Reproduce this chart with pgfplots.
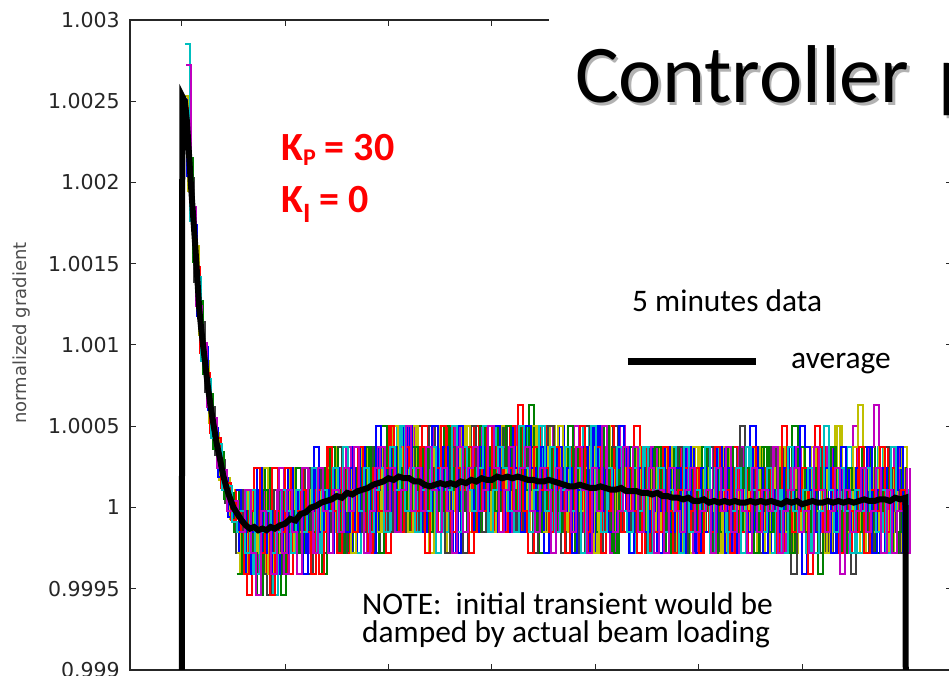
\documentclass[border=0pt]{standalone}
\usepackage{pgfplots}
\pgfplotsset{compat=1.18}
\usepackage{fontspec}
\setmainfont{Carlito}
\newfontfamily\dejavu{DejaVu Sans}
\definecolor{mblue}{rgb}{0,0,1}
\definecolor{mgreen}{rgb}{0,0.5,0}
\definecolor{mred}{rgb}{1,0,0}
\definecolor{mcyan}{rgb}{0,0.75,0.75}
\definecolor{mmag}{rgb}{0.75,0,0.75}
\definecolor{myel}{rgb}{0.75,0.75,0}
\definecolor{mgray}{rgb}{0.25,0.25,0.25}
\begin{document}
\begin{tikzpicture}[x=1pt,y=1pt]
\begin{axis}[
  at={(130pt,6pt)}, anchor=south west,
  scale only axis, width=822pt, height=650pt,
  xmin=-50, xmax=745, ymin=0.999, ymax=1.003,
  xtick={0,100,...,700}, xticklabels={},
  ytick={0.999,0.9995,1,1.0005,1.001,1.0015,1.002,1.0025,1.003},
  yticklabels={0.999,0.9995,1,1.0005,1.001,1.0015,1.002,1.0025,1.003},
  scaled x ticks=false, scaled y ticks=false,
  major tick length=6pt,
  tick style={black!85, line width=1pt},
  axis line style={black!85, line width=1.2pt},
  yticklabel style={font=\dejavu\fontsize{20.5}{20.5}\selectfont, text=black!85, inner sep=0pt, xshift=-10pt},
  ylabel={normalized gradient},
  ylabel style={at={(axis description cs:-0.1314,0.5185)}, anchor=center, font=\dejavu\fontsize{18}{18}\selectfont, text=black!70},
  legend style={at={(axis description cs:0.6010,0.4739)}, anchor=west, draw=none, fill=none, inner sep=0pt,
    font=\fontsize{31.4}{31.4}\selectfont, /tikz/every odd column/.append style={column sep=30pt}},
  legend image code/.code={\draw[line width=7pt] (0pt,0pt) -- (128pt,0pt);},
  every axis plot/.append style={line width=2pt},
]
% ---- runs 1-7 ----
\addplot[const plot, mgray, forget plot] coordinates {
(2.1,1.00241)(7.1,1.00203)(12.1,1.00139)(17.1,1.00114)(22.1,1.00071)(27.1,1.00062)(32.1,1.00032)(37.1,1.00029)(42.1,1.00003)(47.1,1.00006)
(52.1,0.99972)(57.1,0.99998)(62.1,0.99959)(67.1,0.99985)(72.1,1.00011)(77.1,0.99972)(82.1,0.99946)(87.1,0.99998)(92.1,0.99985)(97.1,0.99959)
(102.1,1.00011)(107.1,0.99972)(112.1,1.00011)(117.1,0.99985)(122.1,0.99959)(127.1,1.00024)(132.1,0.99998)(137.1,0.99972)(142.1,1.00024)(147.1,0.99998)
(152.1,0.99972)(157.1,1.00011)(162.1,0.99985)(167.1,1.00024)(172.1,0.99998)(177.1,1.00037)(182.1,1.00011)(187.1,0.99972)(192.1,0.99998)(197.1,1.00024)
(202.1,1.00037)(207.1,0.99998)(212.1,1.00024)(217.1,0.99985)(222.1,1.00011)(227.1,1.0005)(232.1,0.99998)(237.1,1.00024)(242.1,0.99998)(247.1,1.00037)
(252.1,1.00011)(257.1,0.99985)(262.1,1.00024)(267.1,0.99998)(272.1,0.99972)(277.1,1.00037)(282.1,0.99985)(287.1,1.00024)(292.1,1.00037)(297.1,0.99998)
(302.1,1.00011)(307.1,1.0005)(312.1,1.00024)(317.1,0.99985)(322.1,1.00011)(327.1,1.00037)(332.1,0.99998)(337.1,1.00024)(342.1,1.00037)(347.1,0.99998)
(352.1,0.99985)(357.1,1.00024)(362.1,1.00011)(367.1,0.99972)(372.1,1.00024)(377.1,0.99998)(382.1,1.00011)(387.1,0.99985)(392.1,1.00037)(397.1,1.00011)
(402.1,0.99972)(407.1,1.00024)(412.1,0.99998)(417.1,1.0005)(422.1,1.00011)(427.1,0.99985)(432.1,0.99998)(437.1,1.00037)(442.1,0.99998)(447.1,1.00037)
(452.1,0.99985)(457.1,1.00011)(462.1,1.00024)(467.1,0.99972)(472.1,1.00011)(477.1,0.99972)(482.1,1.00024)(487.1,0.99998)(492.1,0.99985)(497.1,1.00011)
(502.1,1.00024)(507.1,0.99985)(512.1,0.99998)(517.1,1.00011)(522.1,0.99972)(527.1,1.00024)(532.1,0.99998)(537.1,1.00037)(542.1,0.99985)(547.1,1.00011)
(552.1,0.99998)(557.1,0.99972)(562.1,1.00024)(567.1,0.99985)(572.1,1.00011)(577.1,0.99998)(582.1,1.00037)(587.1,0.99972)(592.1,0.99998)(597.1,1.00011)
(602.1,1.00024)(607.1,0.99985)(612.1,0.99998)(617.1,0.99972)(622.1,1.00037)(627.1,1.00011)(632.1,0.99985)(637.1,0.99998)(642.1,1.00024)(647.1,0.99959)
(652.1,1.00011)(657.1,0.99985)(662.1,0.99998)(667.1,1.00024)(672.1,0.99985)(677.1,0.99998)(682.1,1.00024)(687.1,0.99972)(692.1,1.00011)(697.1,0.99972)
(702.1,0.99998)
};
\addplot[const plot, myel, forget plot] coordinates {
(1.4,1.00253)(6.4,1.00195)(11.4,1.00161)(16.4,1.00106)(21.4,1.0009)(26.4,1.00052)(31.4,1.00046)(36.4,1.00017)(41.4,1.00018)(46.4,0.99993)
(51.4,1.00011)(56.4,0.99959)(61.4,0.99985)(66.4,0.99998)(71.4,0.99972)(76.4,1.00011)(81.4,0.99959)(86.4,0.99985)(91.4,0.99998)(96.4,0.99972)
(101.4,0.99985)(106.4,1.00011)(111.4,0.99998)(116.4,0.99972)(121.4,1.00011)(126.4,0.99985)(131.4,0.99998)(136.4,1.00024)(141.4,0.99972)(146.4,1.00011)
(151.4,0.99998)(156.4,1.00024)(161.4,0.99985)(166.4,1.00037)(171.4,0.99998)(176.4,1.00011)(181.4,0.99998)(186.4,1.00024)(191.4,0.99985)(196.4,1.00011)
(201.4,1.00024)(206.4,0.99985)(211.4,1.00037)(216.4,1.00011)(221.4,1.0005)(226.4,0.99998)(231.4,1.00024)(236.4,0.99985)(241.4,1.00011)(246.4,0.99998)
(251.4,1.00037)(256.4,0.99972)(261.4,1.00024)(266.4,1.00011)(271.4,1.0005)(276.4,0.99985)(281.4,1.00037)(286.4,1.00011)(291.4,0.99998)(296.4,1.00024)
(301.4,1.0005)(306.4,0.99985)(311.4,1.00011)(316.4,1.00037)(321.4,1.00024)(326.4,0.99998)(331.4,0.99985)(336.4,1.0005)(341.4,1.00024)(346.4,0.99985)
(351.4,1.00011)(356.4,1.0005)(361.4,0.99998)(366.4,1.00037)(371.4,0.99985)(376.4,1.00011)(381.4,1.00037)(386.4,0.99998)(391.4,1.00024)(396.4,0.99972)
(401.4,1.00011)(406.4,1.0005)(411.4,0.99998)(416.4,0.99985)(421.4,1.00024)(426.4,1.00011)(431.4,1.00037)(436.4,0.99998)(441.4,0.99985)(446.4,1.00024)
(451.4,0.99998)(456.4,1.00037)(461.4,0.99972)(466.4,1.00011)(471.4,1.00024)(476.4,0.99985)(481.4,1.00011)(486.4,0.99998)(491.4,0.99972)(496.4,1.00037)
(501.4,0.99985)(506.4,1.00011)(511.4,0.99998)(516.4,1.00037)(521.4,0.99972)(526.4,1.00024)(531.4,1.00011)(536.4,0.99985)(541.4,0.99998)(546.4,1.00024)
(551.4,0.99972)(556.4,1.00037)(561.4,1.00011)(566.4,0.99998)(571.4,0.99985)(576.4,1.00024)(581.4,0.99998)(586.4,1.00011)(591.4,0.99972)(596.4,1.00037)
(601.4,0.99998)(606.4,0.99985)(611.4,1.00011)(616.4,1.00024)(621.4,0.99972)(626.4,0.99998)(631.4,1.0005)(636.4,1.00011)(641.4,0.99985)(646.4,1.00024)
(651.4,0.99998)(656.4,0.99972)(661.4,1.00011)(666.4,0.99998)(671.4,1.00024)(676.4,0.99998)(681.4,0.99985)(686.4,1.00011)(691.4,0.99972)(696.4,1.00037)
(701.4,0.99998)
};
\addplot[const plot, mgreen, forget plot] coordinates {
(0.7,1.00246)(5.7,1.00215)(10.7,1.00151)(15.7,1.00127)(20.7,1.00082)(25.7,1.0007)(30.7,1.00036)(35.7,1.00034)(40.7,1.00005)(45.7,1.00009)
(50.7,0.99985)(55.7,1.00011)(60.7,0.99972)(65.7,0.99985)(70.7,0.99959)(75.7,0.99998)(80.7,1.00024)(85.7,0.99972)(90.7,0.99985)(95.7,0.99946)
(100.7,0.99998)(105.7,0.99985)(110.7,1.00024)(115.7,0.99972)(120.7,0.99998)(125.7,1.00011)(130.7,0.99985)(135.7,0.99959)(140.7,1.00011)(145.7,0.99985)
(150.7,1.00037)(155.7,0.99998)(160.7,0.99972)(165.7,1.00024)(170.7,1.00011)(175.7,0.99985)(180.7,1.00037)(185.7,1.00011)(190.7,0.99972)(195.7,1.00024)
(200.7,0.99998)(205.7,1.00024)(210.7,1.0005)(215.7,1.00011)(220.7,0.99985)(225.7,1.00037)(230.7,1.00024)(235.7,0.99998)(240.7,1.00037)(245.7,0.99972)
(250.7,1.00011)(255.7,1.00024)(260.7,1.0005)(265.7,0.99998)(270.7,0.99985)(275.7,1.00024)(280.7,1.00011)(285.7,1.00037)(290.7,0.99985)(295.7,1.00024)
(300.7,0.99998)(305.7,1.0005)(310.7,1.00011)(315.7,1.00037)(320.7,0.99985)(325.7,1.00024)(330.7,0.99998)(335.7,1.00063)(340.7,0.99998)(345.7,0.99972)
(350.7,1.00037)(355.7,1.00011)(360.7,1.00024)(365.7,0.99985)(370.7,1.00037)(375.7,1.00011)(380.7,0.99972)(385.7,0.99998)(390.7,1.00024)(395.7,1.0005)
(400.7,0.99985)(405.7,1.00011)(410.7,1.00037)(415.7,0.99972)(420.7,0.99998)(425.7,1.00024)(430.7,1.00011)(435.7,0.99985)(440.7,1.00024)(445.7,0.99998)
(450.7,0.99972)(455.7,1.00037)(460.7,1.00011)(465.7,0.99985)(470.7,0.99985)(475.7,1.00037)(480.7,0.99998)(485.7,0.99972)(490.7,1.00011)(495.7,1.00024)
(500.7,0.99998)(505.7,1.00024)(510.7,0.99972)(515.7,1.00011)(520.7,0.99985)(525.7,1.00037)(530.7,0.99998)(535.7,1.00011)(540.7,0.99972)(545.7,1.00024)
(550.7,0.99985)(555.7,0.99998)(560.7,1.00037)(565.7,1.00011)(570.7,0.99985)(575.7,1.00024)(580.7,0.99998)(585.7,0.99972)(590.7,1.0005)(595.7,1.00011)
(600.7,0.99985)(605.7,0.99998)(610.7,1.00024)(615.7,0.99959)(620.7,1.00011)(625.7,1.00037)(630.7,0.99985)(635.7,0.99998)(640.7,1.00024)(645.7,0.99972)
(650.7,1.00011)(655.7,0.99998)(660.7,0.99985)(665.7,1.00037)(670.7,0.99972)(675.7,1.00011)(680.7,0.99998)(685.7,1.00037)(690.7,0.99985)(695.7,1.00024)
(700.7,0.99998)
};
\addplot[const plot, mblue, forget plot] coordinates {
(0,1.00251)(5,1.00204)(10,1.00174)(15,1.00118)(20,1.00099)(25,1.0006)(30,1.00049)(35,1.00019)(40,1.00018)(45,0.99994)
(50,0.99998)(55,0.99972)(60,0.99998)(65,0.99959)(70,1.00011)(75,0.99985)(80,0.99972)(85,0.99998)(90,0.99959)(95,0.99985)
(100,1.00011)(105,0.99972)(110,0.99985)(115,1.00011)(120,0.99972)(125,0.99998)(130,1.00024)(135,0.99985)(140,0.99998)(145,1.00024)
(150,0.99985)(155,1.00011)(160,1.00037)(165,0.99972)(170,1.00011)(175,0.99998)(180,1.00024)(185,0.99985)(190,1.00037)(195,0.99998)
(200,1.00011)(205,1.00037)(210,0.99985)(215,1.0005)(220,1.00024)(225,0.99998)(230,1.00037)(235,1.00011)(240,0.99985)(245,1.00024)
(250,1.0005)(255,0.99998)(260,1.00011)(265,0.99972)(270,1.00037)(275,1.00011)(280,1.00024)(285,0.99998)(290,1.0005)(295,1.00011)
(300,0.99985)(305,1.00037)(310,1.00024)(315,0.99998)(320,1.0005)(325,1.00011)(330,1.00037)(335,0.99985)(340,1.00011)(345,1.00037)
(350,0.99972)(355,1.00024)(360,0.99998)(365,1.0005)(370,0.99998)(375,1.00024)(380,0.99985)(385,1.00037)(390,1.00011)(395,0.99972)
(400,1.0005)(405,0.99998)(410,1.00024)(415,1.00011)(420,0.99985)(425,1.00037)(430,0.99998)(435,1.00024)(440,1.00011)(445,0.99985)
(450,1.00037)(455,0.99998)(460,0.99972)(465,1.00024)(470,0.99998)(475,1.00024)(480,0.99985)(485,1.00011)(490,1.00037)(495,0.99972)
(500,1.00011)(505,0.99985)(510,1.00024)(515,0.99998)(520,1.00037)(525,0.99972)(530,1.00011)(535,0.99998)(540,0.99985)(545,1.00024)
(550,1.0005)(555,0.99985)(560,0.99998)(565,1.00024)(570,0.99972)(575,1.00011)(580,1.00037)(585,0.99998)(590,0.99985)(595,1.00011)
(600,0.99959)(605,1.00024)(610,0.99998)(615,1.00011)(620,0.99985)(625,1.00037)(630,0.99998)(635,0.99972)(640,1.00024)(645,1.00011)
(650,0.99985)(655,0.99998)(660,1.00037)(665,0.99985)(670,1.00011)(675,0.99972)(680,1.00024)(685,0.99998)(690,1.00037)(695,0.99985)
(700,1.00011)
};
\addplot[const plot, mred, forget plot] coordinates {
(2.8,1.00246)(7.8,1.00181)(12.8,1.00148)(17.8,1.00095)(22.8,1.00083)(27.8,1.00046)(32.8,1.00043)(37.8,1.00012)(42.8,1.00015)(47.8,0.99992)
(52.8,1.00011)(57.8,0.99985)(62.8,0.99946)(67.8,1.00011)(72.8,0.99998)(77.8,0.99959)(82.8,0.99985)(87.8,1.00024)(92.8,0.99972)(97.8,0.99998)
(102.8,0.99959)(107.8,0.99998)(112.8,0.99972)(117.8,1.00024)(122.8,0.99985)(127.8,1.00011)(132.8,0.99959)(137.8,0.99998)(142.8,1.00037)(147.8,0.99985)
(152.8,1.00011)(157.8,0.99972)(162.8,1.00024)(167.8,0.99998)(172.8,0.99985)(177.8,1.00024)(182.8,0.99985)(187.8,1.00037)(192.8,1.00011)(197.8,0.99972)
(202.8,1.0005)(207.8,1.00024)(212.8,0.99998)(217.8,1.00037)(222.8,0.99985)(227.8,1.00011)(232.8,1.0005)(237.8,1.00024)(242.8,1.00024)(247.8,0.99985)
(252.8,0.99998)(257.8,1.0005)(262.8,1.00011)(267.8,1.00037)(272.8,0.99998)(277.8,0.99972)(282.8,1.0005)(287.8,1.00024)(292.8,1.00011)(297.8,0.99985)
(302.8,1.00037)(307.8,0.99998)(312.8,1.00024)(317.8,1.0005)(322.8,1.00011)(327.8,0.99985)(332.8,1.00037)(337.8,1.00024)(342.8,0.99985)(347.8,1.0005)
(352.8,1.00024)(357.8,0.99998)(362.8,1.00037)(367.8,1.00011)(372.8,1.00011)(377.8,1.00037)(382.8,0.99998)(387.8,1.00024)(392.8,0.99972)(397.8,1.00011)
(402.8,1.00037)(407.8,0.99985)(412.8,1.0005)(417.8,1.00024)(422.8,0.99998)(427.8,0.99985)(432.8,1.00024)(437.8,1.0005)(442.8,1.00037)(447.8,0.99972)
(452.8,1.00011)(457.8,1.00024)(462.8,0.99985)(467.8,0.99998)(472.8,1.00011)(477.8,0.99998)(482.8,1.00037)(487.8,0.99985)(492.8,1.00024)(497.8,0.99972)
(502.8,1.00037)(507.8,0.99998)(512.8,0.99972)(517.8,1.00024)(522.8,1.00011)(527.8,0.99985)(532.8,1.00037)(537.8,0.99998)(542.8,1.00024)(547.8,0.99972)
(552.8,1.00011)(557.8,0.99998)(562.8,0.99985)(567.8,1.00037)(572.8,1.00024)(577.8,0.99972)(582.8,1.00011)(587.8,0.99998)(592.8,0.99985)(597.8,1.00024)
(602.8,1.00037)(607.8,0.99998)(612.8,1.0005)(617.8,1.00037)(622.8,1.00011)(627.8,0.99985)(632.8,0.99998)(637.8,1.00024)(642.8,0.99972)(647.8,1.00011)
(652.8,1.00037)(657.8,0.99998)(662.8,0.99985)(667.8,1.00024)(672.8,0.99998)(677.8,1.00037)(682.8,0.99972)(687.8,1.00011)(692.8,1.00024)(697.8,0.99985)
(702.8,1.00011)
};
\addplot[const plot, mcyan, forget plot] coordinates {
(3.5,1.00285)(8.5,1.00176)(13.5,1.00142)(18.5,1.0009)(23.5,1.00079)(28.5,1.00043)(33.5,1.00039)(38.5,1.00011)(43.5,1.00013)(48.5,0.99991)
(53.5,0.99985)(58.5,0.99972)(63.5,1.00011)(68.5,0.99959)(73.5,0.99985)(78.5,0.99998)(83.5,0.99972)(88.5,0.99946)(93.5,1.00011)(98.5,0.99985)
(103.5,0.99972)(108.5,0.99998)(113.5,1.00011)(118.5,0.99985)(123.5,0.99998)(128.5,0.99972)(133.5,1.00011)(138.5,0.99985)(143.5,0.99985)(148.5,1.00024)
(153.5,0.99998)(158.5,1.00037)(163.5,1.00011)(168.5,0.99972)(173.5,1.00024)(178.5,1.00011)(183.5,1.00024)(188.5,0.99998)(193.5,1.00037)(198.5,0.99985)
(203.5,1.00024)(208.5,1.0005)(213.5,1.00011)(218.5,1.00037)(223.5,0.99985)(228.5,1.00024)(233.5,0.99998)(238.5,1.00037)(243.5,1.00011)(248.5,1.00037)
(253.5,0.99985)(258.5,1.00024)(263.5,0.99998)(268.5,1.0005)(273.5,1.00024)(278.5,1.00011)(283.5,0.99998)(288.5,1.00037)(293.5,1.00024)(298.5,0.99985)
(303.5,1.0005)(308.5,1.00011)(313.5,1.00037)(318.5,0.99998)(323.5,1.00024)(328.5,1.0005)(333.5,1.00011)(338.5,0.99998)(343.5,1.0005)(348.5,1.00011)
(353.5,1.00037)(358.5,0.99985)(363.5,1.00024)(368.5,0.99998)(373.5,1.00037)(378.5,0.99985)(383.5,1.00024)(388.5,1.0005)(393.5,0.99998)(398.5,1.00037)
(403.5,1.00011)(408.5,0.99985)(413.5,1.00024)(418.5,0.99998)(423.5,1.0005)(428.5,1.00011)(433.5,0.99972)(438.5,1.00037)(443.5,1.00011)(448.5,1.00037)
(453.5,0.99998)(458.5,0.99985)(463.5,1.00024)(468.5,1.00011)(473.5,1.00037)(478.5,0.99998)(483.5,0.99972)(488.5,1.00024)(493.5,1.00011)(498.5,0.99985)
(503.5,1.00024)(508.5,1.00011)(513.5,0.99985)(518.5,1.00037)(523.5,0.99998)(528.5,0.99972)(533.5,1.00024)(538.5,1.00011)(543.5,1.00037)(548.5,0.99998)
(553.5,0.99985)(558.5,1.00024)(563.5,1.00011)(568.5,0.99972)(573.5,0.99998)(578.5,1.00037)(583.5,0.99985)(588.5,1.00011)(593.5,1.00024)(598.5,0.99998)
(603.5,0.99972)(608.5,1.00011)(613.5,1.00037)(618.5,0.99985)(623.5,0.99998)(628.5,1.00024)(633.5,1.00011)(638.5,0.99985)(643.5,1.00037)(648.5,0.99998)
(653.5,0.99972)(658.5,1.00024)(663.5,1.00011)(668.5,0.99985)(673.5,1.00037)(678.5,0.99985)(683.5,1.00011)(688.5,0.99998)(693.5,1.00024)(698.5,1.00011)
(703.5,0.99972)
};
\addplot[const plot, mmag, forget plot] coordinates {
(4.2,1.00272)(9.2,1.00185)(14.2,1.00124)(19.2,1.00101)(24.2,1.00062)(29.2,1.00055)(34.2,1.00024)(39.2,1.00023)(44.2,0.99998)(49.2,1.00004)
(54.2,0.99998)(59.2,0.99985)(64.2,0.99998)(69.2,0.99972)(74.2,0.99959)(79.2,1.00011)(84.2,0.99985)(89.2,0.99972)(94.2,1.00024)(99.2,0.99959)
(104.2,0.99985)(109.2,0.99972)(114.2,0.99998)(119.2,1.00024)(124.2,0.99972)(129.2,0.99985)(134.2,1.00011)(139.2,0.99998)(144.2,1.00011)(149.2,0.99985)
(154.2,1.00024)(159.2,1.00037)(164.2,0.99985)(169.2,0.99998)(174.2,1.00024)(179.2,0.99972)(184.2,1.00011)(189.2,1.00037)(194.2,0.99998)(199.2,1.00024)
(204.2,0.99985)(209.2,1.00037)(214.2,1.00024)(219.2,1.0005)(224.2,1.00011)(229.2,1.00037)(234.2,0.99985)(239.2,1.0005)(244.2,1.00024)(249.2,1.00011)
(254.2,0.99972)(259.2,1.00037)(264.2,1.0005)(269.2,1.00011)(274.2,0.99998)(279.2,1.00024)(284.2,1.00037)(289.2,1.0005)(294.2,0.99998)(299.2,1.00024)
(304.2,1.00011)(309.2,1.00037)(314.2,0.99985)(319.2,1.00024)(324.2,1.0005)(329.2,0.99998)(334.2,1.00037)(339.2,1.00011)(344.2,1.00024)(349.2,0.99998)
(354.2,1.0005)(359.2,1.00011)(364.2,0.99985)(369.2,1.00037)(374.2,1.00011)(379.2,1.0005)(384.2,1.00024)(389.2,0.99985)(394.2,1.00037)(399.2,0.99998)
(404.2,1.00024)(409.2,1.00037)(414.2,0.99972)(419.2,1.00011)(424.2,1.0005)(429.2,1.00024)(434.2,0.99985)(439.2,1.00011)(444.2,1.00024)(449.2,0.99998)
(454.2,1.00037)(459.2,1.00011)(464.2,0.99985)(469.2,1.00024)(474.2,0.99985)(479.2,1.00024)(484.2,1.00037)(489.2,0.99998)(494.2,0.99972)(499.2,1.00011)
(504.2,1.00011)(509.2,1.00037)(514.2,0.99985)(519.2,1.00024)(524.2,0.99998)(529.2,1.00011)(534.2,0.99972)(539.2,1.00037)(544.2,1.00024)(549.2,0.99998)
(554.2,1.00011)(559.2,0.99985)(564.2,1.00024)(569.2,1.00037)(574.2,0.99998)(579.2,0.99972)(584.2,1.00024)(589.2,1.00011)(594.2,1.00037)(599.2,0.99985)
(604.2,0.99998)(609.2,1.00024)(614.2,0.99985)(619.2,1.00011)(624.2,1.00037)(629.2,0.99998)(634.2,1.00024)(639.2,0.99972)(644.2,1.00011)(649.2,1.0005)
(654.2,1.00024)(659.2,0.99985)(664.2,1.00037)(669.2,1.00063)(674.2,1.00011)(679.2,1.00024)(684.2,0.99985)(689.2,1.00037)(694.2,0.99998)(699.2,0.99972)
(704.2,1.00024)
};
% ---- runs 8-14 ----
\addplot[const plot, mgray, forget plot] coordinates {
(54.6,0.99959)(59.6,1.00011)(64.6,0.99985)(69.6,0.99972)(74.6,0.99998)(79.6,0.99959)(84.6,0.99985)(89.6,1.00011)(94.6,0.99972)(99.6,0.99985)
(104.6,1.00011)(109.6,0.99972)(114.6,0.99998)(119.6,1.00024)(124.6,0.99985)(129.6,0.99998)(134.6,1.00024)(139.6,0.99985)(144.6,1.00011)(149.6,1.00037)
(154.6,0.99972)(159.6,1.00011)(164.6,0.99998)(169.6,1.00024)(174.6,0.99985)(179.6,1.00037)(184.6,0.99998)(189.6,1.00011)(194.6,1.00037)(199.6,0.99985)
(204.6,1.0005)(209.6,1.00024)(214.6,0.99998)(219.6,1.00037)(224.6,1.00011)(229.6,0.99985)(234.6,1.00024)(239.6,1.0005)(244.6,0.99998)(249.6,1.00011)
(254.6,0.99972)(259.6,1.00037)(264.6,1.00011)(269.6,1.00024)(274.6,0.99998)(279.6,1.0005)(284.6,1.00011)(289.6,0.99985)(294.6,1.00037)(299.6,1.00024)
(304.6,0.99998)(309.6,1.0005)(314.6,1.00011)(319.6,1.00037)(324.6,0.99985)(329.6,1.00011)(334.6,1.00037)(339.6,0.99972)(344.6,1.00024)(349.6,0.99998)
(354.6,1.0005)(359.6,0.99998)(364.6,1.00024)(369.6,0.99985)(374.6,1.00037)(379.6,1.00011)(384.6,0.99972)(389.6,1.0005)(394.6,0.99998)(399.6,1.00024)
(404.6,1.00011)(409.6,0.99985)(414.6,1.00037)(419.6,0.99998)(424.6,1.00024)(429.6,1.00011)(434.6,0.99985)(439.6,1.00037)(444.6,0.99998)(449.6,0.99972)
(454.6,1.00024)(459.6,0.99998)(464.6,1.00024)(469.6,0.99985)(474.6,1.00011)(479.6,1.00037)(484.6,0.99972)(489.6,1.00011)(494.6,0.99985)(499.6,1.00024)
(504.6,0.99998)(509.6,1.00037)(514.6,0.99972)(519.6,1.00011)(524.6,0.99998)(529.6,0.99985)(534.6,1.00024)(539.6,1.0005)(544.6,0.99985)(549.6,0.99998)
(554.6,1.00024)(559.6,0.99972)(564.6,1.00011)(569.6,1.00037)(574.6,0.99998)(579.6,0.99985)(584.6,1.00011)(589.6,0.99959)(594.6,1.00024)(599.6,0.99998)
(604.6,1.00011)(609.6,0.99985)(614.6,1.00037)(619.6,0.99998)(624.6,0.99972)(629.6,1.00024)(634.6,1.00011)(639.6,0.99985)(644.6,0.99998)(649.6,1.00037)
(654.6,0.99985)(659.6,1.00011)(664.6,0.99972)(669.6,1.00024)(674.6,0.99998)(679.6,1.00037)(684.6,0.99985)(689.6,1.00011)(694.6,0.99972)(699.6,1.00024)
};
\addplot[const plot, myel, forget plot] coordinates {
(53.9,0.99972)(58.9,0.99959)(63.9,1.00011)(68.9,0.99985)(73.9,0.99972)(78.9,1.00024)(83.9,0.99959)(88.9,0.99985)(93.9,0.99972)(98.9,0.99998)
(103.9,1.00024)(108.9,0.99972)(113.9,0.99985)(118.9,1.00011)(123.9,0.99998)(128.9,1.00011)(133.9,0.99985)(138.9,1.00024)(143.9,1.00037)(148.9,0.99985)
(153.9,0.99998)(158.9,1.00024)(163.9,0.99972)(168.9,1.00011)(173.9,1.00037)(178.9,0.99998)(183.9,1.00024)(188.9,0.99985)(193.9,1.00037)(198.9,1.00024)
(203.9,1.0005)(208.9,1.00011)(213.9,1.00037)(218.9,0.99985)(223.9,1.0005)(228.9,1.00024)(233.9,1.00011)(238.9,0.99972)(243.9,1.00037)(248.9,1.0005)
(253.9,1.00011)(258.9,0.99998)(263.9,1.00024)(268.9,1.00037)(273.9,1.0005)(278.9,0.99998)(283.9,1.00024)(288.9,1.00011)(293.9,1.00037)(298.9,0.99985)
(303.9,1.00024)(308.9,1.0005)(313.9,0.99998)(318.9,1.00037)(323.9,1.00011)(328.9,1.00024)(333.9,0.99998)(338.9,1.0005)(343.9,1.00011)(348.9,0.99985)
(353.9,1.00037)(358.9,1.00011)(363.9,1.0005)(368.9,1.00024)(373.9,0.99985)(378.9,1.00037)(383.9,0.99998)(388.9,1.00024)(393.9,1.00037)(398.9,0.99972)
(403.9,1.00011)(408.9,1.0005)(413.9,1.00024)(418.9,0.99985)(423.9,1.00011)(428.9,1.00024)(433.9,0.99998)(438.9,1.00037)(443.9,1.00011)(448.9,0.99985)
(453.9,1.00024)(458.9,0.99985)(463.9,1.00024)(468.9,1.00037)(473.9,0.99998)(478.9,0.99972)(483.9,1.00011)(488.9,1.00011)(493.9,1.00037)(498.9,0.99985)
(503.9,1.00024)(508.9,0.99998)(513.9,1.00011)(518.9,0.99972)(523.9,1.00037)(528.9,1.00024)(533.9,0.99998)(538.9,1.00011)(543.9,0.99985)(548.9,1.00024)
(553.9,1.00037)(558.9,0.99998)(563.9,0.99972)(568.9,1.00024)(573.9,1.00011)(578.9,1.00037)(583.9,0.99985)(588.9,0.99998)(593.9,1.00024)(598.9,0.99985)
(603.9,1.00011)(608.9,1.00037)(613.9,0.99998)(618.9,1.00024)(623.9,0.99972)(628.9,1.00011)(633.9,1.0005)(638.9,1.00024)(643.9,0.99985)(648.9,1.00037)
(653.9,1.00063)(658.9,1.00011)(663.9,1.00024)(668.9,0.99985)(673.9,1.00037)(678.9,0.99998)(683.9,0.99972)(688.9,1.00024)(693.9,1.00024)(698.9,0.99985)
};
\addplot[const plot, mgreen, forget plot] coordinates {
(53.2,0.99959)(58.2,0.99985)(63.2,0.99998)(68.2,0.99972)(73.2,0.99946)(78.2,1.00011)(83.2,0.99985)(88.2,0.99972)(93.2,0.99998)(98.2,1.00011)
(103.2,0.99985)(108.2,0.99998)(113.2,0.99972)(118.2,1.00011)(123.2,0.99985)(128.2,0.99985)(133.2,1.00024)(138.2,0.99998)(143.2,1.00037)(148.2,1.00011)
(153.2,0.99972)(158.2,1.00024)(163.2,1.00011)(168.2,1.00024)(173.2,0.99998)(178.2,1.00037)(183.2,0.99985)(188.2,1.00024)(193.2,1.0005)(198.2,1.00011)
(203.2,1.00037)(208.2,0.99985)(213.2,1.00024)(218.2,0.99998)(223.2,1.00037)(228.2,1.00011)(233.2,1.00037)(238.2,0.99985)(243.2,1.00024)(248.2,0.99998)
(253.2,1.0005)(258.2,1.00024)(263.2,1.00011)(268.2,0.99998)(273.2,1.00037)(278.2,1.00024)(283.2,0.99985)(288.2,1.0005)(293.2,1.00011)(298.2,1.00037)
(303.2,0.99998)(308.2,1.00024)(313.2,1.0005)(318.2,1.00011)(323.2,0.99998)(328.2,1.0005)(333.2,1.00011)(338.2,1.00037)(343.2,0.99985)(348.2,1.00024)
(353.2,0.99998)(358.2,1.00037)(363.2,0.99985)(368.2,1.00024)(373.2,1.0005)(378.2,0.99998)(383.2,1.00037)(388.2,1.00011)(393.2,0.99985)(398.2,1.00024)
(403.2,0.99998)(408.2,1.0005)(413.2,1.00011)(418.2,0.99972)(423.2,1.00037)(428.2,1.00011)(433.2,1.00037)(438.2,0.99998)(443.2,0.99985)(448.2,1.00024)
(453.2,1.00011)(458.2,1.00037)(463.2,0.99998)(468.2,0.99972)(473.2,1.00024)(478.2,1.00011)(483.2,0.99985)(488.2,1.00024)(493.2,1.00011)(498.2,0.99985)
(503.2,1.00037)(508.2,0.99998)(513.2,0.99972)(518.2,1.00024)(523.2,1.00011)(528.2,1.00037)(533.2,0.99998)(538.2,0.99985)(543.2,1.00024)(548.2,1.00011)
(553.2,0.99972)(558.2,0.99998)(563.2,1.00037)(568.2,0.99985)(573.2,1.00011)(578.2,1.00024)(583.2,0.99998)(588.2,0.99972)(593.2,1.00011)(598.2,1.00037)
(603.2,0.99985)(608.2,0.99998)(613.2,1.00024)(618.2,1.00011)(623.2,0.99985)(628.2,1.00037)(633.2,0.99998)(638.2,0.99972)(643.2,1.00024)(648.2,1.00011)
(653.2,0.99985)(658.2,1.00037)(663.2,0.99985)(668.2,1.00011)(673.2,0.99998)(678.2,1.00024)(683.2,1.00011)(688.2,0.99972)(693.2,0.99985)(698.2,1.00011)
};
\addplot[const plot, mblue, forget plot] coordinates {
(52.5,1.00011)(57.5,0.99998)(62.5,0.99959)(67.5,0.99985)(72.5,1.00024)(77.5,0.99972)(82.5,0.99998)(87.5,0.99959)(92.5,0.99998)(97.5,0.99972)
(102.5,1.00024)(107.5,0.99985)(112.5,1.00011)(117.5,0.99959)(122.5,0.99998)(127.5,1.00037)(132.5,0.99985)(137.5,1.00011)(142.5,0.99972)(147.5,1.00024)
(152.5,0.99998)(157.5,0.99985)(162.5,1.00024)(167.5,0.99985)(172.5,1.00037)(177.5,1.00011)(182.5,0.99972)(187.5,1.0005)(192.5,1.00024)(197.5,0.99998)
(202.5,1.00037)(207.5,0.99985)(212.5,1.00011)(217.5,1.0005)(222.5,1.00024)(227.5,1.00024)(232.5,0.99985)(237.5,0.99998)(242.5,1.0005)(247.5,1.00011)
(252.5,1.00037)(257.5,0.99998)(262.5,0.99972)(267.5,1.0005)(272.5,1.00024)(277.5,1.00011)(282.5,0.99985)(287.5,1.00037)(292.5,0.99998)(297.5,1.00024)
(302.5,1.0005)(307.5,1.00011)(312.5,0.99985)(317.5,1.00037)(322.5,1.00024)(327.5,0.99985)(332.5,1.0005)(337.5,1.00024)(342.5,0.99998)(347.5,1.00037)
(352.5,1.00011)(357.5,1.00011)(362.5,1.00037)(367.5,0.99998)(372.5,1.00024)(377.5,0.99972)(382.5,1.00011)(387.5,1.00037)(392.5,0.99985)(397.5,1.0005)
(402.5,1.00024)(407.5,0.99998)(412.5,0.99985)(417.5,1.00024)(422.5,1.0005)(427.5,1.00037)(432.5,0.99972)(437.5,1.00011)(442.5,1.00024)(447.5,0.99985)
(452.5,0.99998)(457.5,1.00011)(462.5,0.99998)(467.5,1.00037)(472.5,0.99985)(477.5,1.00024)(482.5,0.99972)(487.5,1.00037)(492.5,0.99998)(497.5,0.99972)
(502.5,1.00024)(507.5,1.00011)(512.5,0.99985)(517.5,1.00037)(522.5,0.99998)(527.5,1.00024)(532.5,0.99972)(537.5,1.00011)(542.5,0.99998)(547.5,0.99985)
(552.5,1.00037)(557.5,1.00024)(562.5,0.99972)(567.5,1.00011)(572.5,0.99998)(577.5,0.99985)(582.5,1.00024)(587.5,1.00037)(592.5,0.99998)(597.5,1.0005)
(602.5,1.00037)(607.5,1.00011)(612.5,0.99985)(617.5,0.99998)(622.5,1.00024)(627.5,0.99972)(632.5,1.00011)(637.5,1.00037)(642.5,0.99998)(647.5,0.99985)
(652.5,1.00024)(657.5,0.99998)(662.5,1.00037)(667.5,0.99972)(672.5,1.00011)(677.5,1.00024)(682.5,0.99985)(687.5,1.00011)(692.5,1.00037)(697.5,0.99972)
};
\addplot[const plot, mred, forget plot] coordinates {
(55.3,0.99985)(60.3,0.99959)(65.3,0.99998)(70.3,1.00024)(75.3,0.99972)(80.3,0.99985)(85.3,0.99946)(90.3,0.99998)(95.3,0.99985)(100.3,1.00024)
(105.3,0.99972)(110.3,0.99998)(115.3,1.00011)(120.3,0.99985)(125.3,0.99959)(130.3,1.00011)(135.3,0.99985)(140.3,1.00037)(145.3,0.99998)(150.3,0.99972)
(155.3,1.00024)(160.3,1.00011)(165.3,0.99985)(170.3,1.00037)(175.3,1.00011)(180.3,0.99972)(185.3,1.00024)(190.3,0.99998)(195.3,1.00024)(200.3,1.0005)
(205.3,1.00011)(210.3,0.99985)(215.3,1.00037)(220.3,1.00024)(225.3,0.99998)(230.3,1.00037)(235.3,0.99972)(240.3,1.00011)(245.3,1.00024)(250.3,1.0005)
(255.3,0.99998)(260.3,0.99985)(265.3,1.00024)(270.3,1.00011)(275.3,1.00037)(280.3,0.99985)(285.3,1.00024)(290.3,0.99998)(295.3,1.0005)(300.3,1.00011)
(305.3,1.00037)(310.3,0.99985)(315.3,1.00024)(320.3,0.99998)(325.3,1.00063)(330.3,0.99998)(335.3,0.99972)(340.3,1.00037)(345.3,1.00011)(350.3,1.00024)
(355.3,0.99985)(360.3,1.00037)(365.3,1.00011)(370.3,0.99972)(375.3,0.99998)(380.3,1.00024)(385.3,1.0005)(390.3,0.99985)(395.3,1.00011)(400.3,1.00037)
(405.3,0.99972)(410.3,0.99998)(415.3,1.00024)(420.3,1.00011)(425.3,0.99985)(430.3,1.00024)(435.3,0.99998)(440.3,0.99972)(445.3,1.00037)(450.3,1.00011)
(455.3,0.99985)(460.3,0.99985)(465.3,1.00037)(470.3,0.99998)(475.3,0.99972)(480.3,1.00011)(485.3,1.00024)(490.3,0.99998)(495.3,1.00024)(500.3,0.99972)
(505.3,1.00011)(510.3,0.99985)(515.3,1.00037)(520.3,0.99998)(525.3,1.00011)(530.3,0.99972)(535.3,1.00024)(540.3,0.99985)(545.3,0.99998)(550.3,1.00037)
(555.3,1.00011)(560.3,0.99985)(565.3,1.00024)(570.3,0.99998)(575.3,0.99972)(580.3,1.0005)(585.3,1.00011)(590.3,0.99985)(595.3,0.99998)(600.3,1.00024)
(605.3,0.99959)(610.3,1.00011)(615.3,1.00037)(620.3,0.99985)(625.3,0.99998)(630.3,1.00024)(635.3,0.99972)(640.3,1.00011)(645.3,0.99998)(650.3,0.99985)
(655.3,1.00037)(660.3,0.99972)(665.3,1.00011)(670.3,0.99998)(675.3,1.00037)(680.3,0.99985)(685.3,1.00024)(690.3,0.99998)(695.3,1.00011)(700.3,0.99998)
};
\addplot[const plot, mcyan, forget plot] coordinates {
(56,0.99998)(61,0.99972)(66,1.00011)(71,0.99959)(76,0.99985)(81,0.99998)(86,0.99972)(91,0.99985)(96,1.00011)(101,0.99998)
(106,0.99972)(111,1.00011)(116,0.99985)(121,0.99998)(126,1.00024)(131,0.99972)(136,1.00011)(141,0.99998)(146,1.00024)(151,0.99985)
(156,1.00037)(161,0.99998)(166,1.00011)(171,0.99998)(176,1.00024)(181,0.99985)(186,1.00011)(191,1.00024)(196,0.99985)(201,1.00037)
(206,1.00011)(211,1.0005)(216,0.99998)(221,1.00024)(226,0.99985)(231,1.00011)(236,0.99998)(241,1.00037)(246,0.99972)(251,1.00024)
(256,1.00011)(261,1.0005)(266,0.99985)(271,1.00037)(276,1.00011)(281,0.99998)(286,1.00024)(291,1.0005)(296,0.99985)(301,1.00011)
(306,1.00037)(311,1.00024)(316,0.99998)(321,0.99985)(326,1.0005)(331,1.00024)(336,0.99985)(341,1.00011)(346,1.0005)(351,0.99998)
(356,1.00037)(361,0.99985)(366,1.00011)(371,1.00037)(376,0.99998)(381,1.00024)(386,0.99972)(391,1.00011)(396,1.0005)(401,0.99998)
(406,0.99985)(411,1.00024)(416,1.00011)(421,1.00037)(426,0.99998)(431,0.99985)(436,1.00024)(441,0.99998)(446,1.00037)(451,0.99972)
(456,1.00011)(461,1.00024)(466,0.99985)(471,1.00011)(476,0.99998)(481,0.99972)(486,1.00037)(491,0.99985)(496,1.00011)(501,0.99998)
(506,1.00037)(511,0.99972)(516,1.00024)(521,1.00011)(526,0.99985)(531,0.99998)(536,1.00024)(541,0.99972)(546,1.00037)(551,1.00011)
(556,0.99998)(561,0.99985)(566,1.00024)(571,0.99998)(576,1.00011)(581,0.99972)(586,1.00037)(591,0.99998)(596,0.99985)(601,1.00011)
(606,1.00024)(611,0.99972)(616,0.99998)(621,1.0005)(626,1.00011)(631,0.99985)(636,1.00024)(641,0.99998)(646,0.99972)(651,1.00011)
(656,0.99998)(661,1.00024)(666,0.99998)(671,0.99985)(676,1.00011)(681,0.99972)(686,1.00037)(691,0.99998)(696,0.99998)(701,0.99985)
};
\addplot[const plot, mmag, forget plot] coordinates {
(56.7,0.99985)(61.7,1.00011)(66.7,0.99972)(71.7,0.99946)(76.7,0.99998)(81.7,0.99985)(86.7,0.99959)(91.7,1.00011)(96.7,0.99972)(101.7,1.00011)
(106.7,0.99985)(111.7,0.99959)(116.7,1.00024)(121.7,0.99998)(126.7,0.99972)(131.7,1.00024)(136.7,0.99998)(141.7,0.99972)(146.7,1.00011)(151.7,0.99985)
(156.7,1.00024)(161.7,0.99998)(166.7,1.00037)(171.7,1.00011)(176.7,0.99972)(181.7,0.99998)(186.7,1.00024)(191.7,1.00037)(196.7,0.99998)(201.7,1.00024)
(206.7,0.99985)(211.7,1.00011)(216.7,1.0005)(221.7,0.99998)(226.7,1.00024)(231.7,0.99998)(236.7,1.00037)(241.7,1.00011)(246.7,0.99985)(251.7,1.00024)
(256.7,0.99998)(261.7,0.99972)(266.7,1.00037)(271.7,0.99985)(276.7,1.00024)(281.7,1.00037)(286.7,0.99998)(291.7,1.00011)(296.7,1.0005)(301.7,1.00024)
(306.7,0.99985)(311.7,1.00011)(316.7,1.00037)(321.7,0.99998)(326.7,1.00024)(331.7,1.00037)(336.7,0.99998)(341.7,0.99985)(346.7,1.00024)(351.7,1.00011)
(356.7,0.99972)(361.7,1.00024)(366.7,0.99998)(371.7,1.00011)(376.7,0.99985)(381.7,1.00037)(386.7,1.00011)(391.7,0.99972)(396.7,1.00024)(401.7,0.99998)
(406.7,1.0005)(411.7,1.00011)(416.7,0.99985)(421.7,0.99998)(426.7,1.00037)(431.7,0.99998)(436.7,1.00037)(441.7,0.99985)(446.7,1.00011)(451.7,1.00024)
(456.7,0.99972)(461.7,1.00011)(466.7,0.99972)(471.7,1.00024)(476.7,0.99998)(481.7,0.99985)(486.7,1.00011)(491.7,1.00024)(496.7,0.99985)(501.7,0.99998)
(506.7,1.00011)(511.7,0.99972)(516.7,1.00024)(521.7,0.99998)(526.7,1.00037)(531.7,0.99985)(536.7,1.00011)(541.7,0.99998)(546.7,0.99972)(551.7,1.00024)
(556.7,0.99985)(561.7,1.00011)(566.7,0.99998)(571.7,1.00037)(576.7,0.99972)(581.7,0.99998)(586.7,1.00011)(591.7,1.00024)(596.7,0.99985)(601.7,0.99998)
(606.7,0.99972)(611.7,1.00037)(616.7,1.00011)(621.7,0.99985)(626.7,0.99998)(631.7,1.00024)(636.7,0.99959)(641.7,1.00011)(646.7,0.99985)(651.7,0.99998)
(656.7,1.00024)(661.7,0.99985)(666.7,0.99998)(671.7,1.00024)(676.7,0.99972)(681.7,1.00011)(686.7,0.99972)(691.7,0.99998)(696.7,0.99998)(701.7,1.00024)
};
% ---- average ----
\addplot[sharp plot, black, line width=6pt] coordinates {
(0,0.998)(0.6,1.00253)(3,1.0025)(5,1.00238)(7,1.00218)(9,1.00198)(11,1.0018)(13,1.00162)(15,1.00142)(17,1.00122)(19,1.00109)(21,1.00098)(23,1.00087)(25,1.00076)(28,1.00062)(31,1.0005)(34,1.00039)(37,1.0003)(40,1.0002)(43,1.00013)(46,1.00007)(50,1.0)
(54,0.99996)(58,0.99992)(62,0.99989)(66,0.99987)(70,0.99988)(74,0.99986)(78,0.99987)(82,0.99986)(86,0.99988)(90,0.99987)(95,0.99989)(100,0.9999)
(105,0.99993)(110,0.99992)(115,0.99996)(120,0.99997)(125,1.0)(130,1.00001)(135,1.00003)(140,1.00004)(145,1.00005)(150,1.00007)(155,1.00006)(160,1.00009)
(165,1.00008)(170,1.0001)(175,1.00011)(180,1.00012)(185,1.00014)(190,1.00015)(195,1.00016)(200,1.00018)(205,1.00017)(210,1.00019)(215,1.00018)(220,1.00018)
(225,1.00016)(230,1.00016)(235,1.00014)(240,1.00013)(245,1.00014)(250,1.00015)(255,1.00014)(260,1.00015)(265,1.00014)(270,1.00016)(275,1.00015)(280,1.00017)
(285,1.00016)(290,1.00018)(295,1.00017)(300,1.00017)(305,1.00019)(310,1.00018)(315,1.00019)(320,1.00018)(325,1.00019)(330,1.00018)(335,1.00017)(340,1.00017)
(345,1.00016)(350,1.00016)(355,1.00017)(360,1.00016)(365,1.00015)(370,1.00014)(375,1.00013)(380,1.00013)(385,1.00014)(390,1.00013)(395,1.00012)(400,1.00012)
(405,1.00013)(410,1.00012)(415,1.00011)(420,1.00011)(425,1.00012)(430,1.0001)(435,1.0001)(440,1.0001)(445,1.00009)(450,1.00009)(455,1.00008)(460,1.00009)
(465,1.00007)(470,1.00007)(475,1.00006)(480,1.00006)(485,1.00005)(490,1.00006)(495,1.00004)(500,1.00004)(505,1.00005)(510,1.00003)(515,1.00004)(520,1.00003)
(525,1.00004)(530,1.00003)(535,1.00004)(540,1.00003)(545,1.00003)(550,1.00004)(555,1.00003)(560,1.00004)(565,1.00003)(570,1.00004)(575,1.00003)(580,1.00002)
(585,1.00004)(590,1.00003)(595,1.00004)(600,1.00002)(605,1.00003)(610,1.00004)(615,1.00003)(620,1.00003)(625,1.00004)(630,1.00003)(635,1.00004)(640,1.00003)
(645,1.00004)(650,1.00003)(655,1.00004)(660,1.00005)(665,1.00004)(670,1.00004)(675,1.00005)(680,1.00005)(685,1.00004)(690,1.00006)(695,1.00005)(700,1.00006)
(700.5,0.998)
};
\addlegendentry{average}
\end{axis}
% slide overlay
\fill[white] (549,536) rectangle (960,690);
\node[anchor=base west, inner sep=0pt, text=black!30, font=\fontsize{82}{82}\selectfont] at (577.5,570.5) {Controller\hspace{11pt} p};
\node[anchor=base west, inner sep=0pt, text=black, font=\fontsize{82}{82}\selectfont] at (575,573) {Controller\hspace{11pt} p};
\node[anchor=base west, inner sep=0pt, text=red, font=\bfseries\fontsize{40}{40}\selectfont] at (281,515) {K\raisebox{-4.5pt}{\fontsize{24}{24}\selectfont P} = 30};
\node[anchor=base west, inner sep=0pt, text=red, font=\bfseries\fontsize{40}{40}\selectfont] at (281,463.7) {K\raisebox{-10pt}{\fontsize{28}{28}\selectfont I} = 0};
\node[anchor=base west, inner sep=0pt, font=\fontsize{31.4}{31.4}\selectfont] at (632,364) {5 minutes data};
\node[anchor=base west, inner sep=0pt, font=\fontsize{31.4}{31.4}\selectfont] at (362,61) {NOTE:\ \ initial transient would be};
\node[anchor=base west, inner sep=0pt, font=\fontsize{31.4}{31.4}\selectfont] at (362,33) {damped by actual beam loading};
\pgfresetboundingbox
\useasboundingbox (0,0) rectangle (949,676);
\end{tikzpicture}
\end{document}
